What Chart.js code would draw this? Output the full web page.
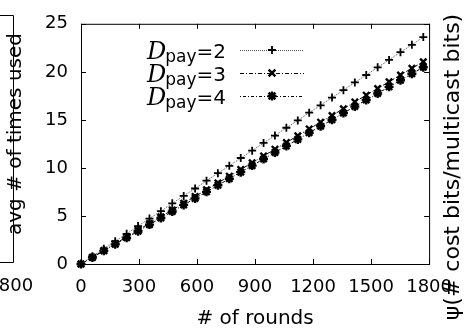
<!DOCTYPE html>
<html>
<head>
<meta charset="utf-8">
<script src="https://cdn.jsdelivr.net/npm/chart.js@4.4.1/dist/chart.umd.min.js"></script>
<style>
  html, body { margin: 0; padding: 0; background: #fff; }
  #wrap { width: 465px; height: 335px; position: relative; }
</style>
</head>
<body>
<div id="wrap"><canvas id="cost"></canvas></div>
<script>
// rounds at which psi was sampled
const ROUNDS = [0, 59, 118, 177, 236, 295, 354, 413, 472, 531, 590, 649, 708, 767, 826,
  885, 944, 1003, 1062, 1121, 1180, 1239, 1298, 1357, 1416, 1475, 1534, 1593, 1652, 1711, 1770];

const DPAY = ['2', '3', '4'];

const PSI_D2 = [0, 0.80, 1.58, 2.37, 3.14, 3.95, 4.73, 5.50, 6.31, 7.09, 7.86, 8.67, 9.45, 10.22, 11.03,
  11.80, 12.60, 13.37, 14.18, 14.94, 15.75, 16.52, 17.32, 18.09, 18.90, 19.67, 20.47, 21.24, 22.05, 22.81, 23.62];
const PSI_D3 = [0, 0.71, 1.41, 2.11, 2.82, 3.52, 4.22, 4.92, 5.63, 6.33, 7.03, 7.73, 8.44, 9.14, 9.84,
  10.54, 11.25, 11.95, 12.65, 13.35, 14.06, 14.76, 15.46, 16.16, 16.87, 17.57, 18.27, 18.97, 19.67, 20.37, 21.05];
const PSI_D4 = [0, 0.68, 1.37, 2.05, 2.73, 3.41, 4.10, 4.78, 5.46, 6.15, 6.83, 7.51, 8.19, 8.88, 9.56,
  10.24, 10.93, 11.61, 12.29, 12.97, 13.66, 14.34, 15.02, 15.71, 16.39, 17.07, 17.75, 18.44, 19.12, 19.80, 20.48];

const X_TITLE = '# of rounds';
const Y_TITLE = 'avg # of times used';
const Y2_TITLE = 'ψ(# cost bits/multicast bits)';
const LEFT_TICK = '800'; // leftover tick of the neighbouring panel

const SANS = '"DejaVu Sans", sans-serif';

const toXY = (ys) => ys.map((y, i) => ({ x: ROUNDS[i], y: y }));

const styles = [
  { dash: [1, 1], color: '#555', point: 'cross', r: 4, w: 1.8 },
  { dash: [4, 2, 1, 2], color: '#000', point: 'crossRot', r: 4.5, w: 2.4 },
  { dash: [1, 2, 3, 2], color: '#000', point: 'star', r: 4.5, w: 2.4 }
];
const series = [PSI_D2, PSI_D3, PSI_D4];

function drawMarker(ctx, style, x, y, r) {
  ctx.beginPath();
  if (style === 'cross' || style === 'star') {
    ctx.moveTo(x - r, y); ctx.lineTo(x + r, y);
    ctx.moveTo(x, y - r); ctx.lineTo(x, y + r);
  }
  if (style === 'crossRot' || style === 'star') {
    const d = r * 0.75;
    ctx.moveTo(x - d, y - d); ctx.lineTo(x + d, y + d);
    ctx.moveTo(x - d, y + d); ctx.lineTo(x + d, y - d);
  }
  ctx.stroke();
}

function vText(ctx, text, x, y, font) {
  ctx.save();
  ctx.fillStyle = '#000';
  ctx.font = font;
  ctx.textAlign = 'center';
  ctx.textBaseline = 'middle';
  ctx.translate(x, y);
  ctx.rotate(-Math.PI / 2);
  ctx.fillText(text, 0, 0);
  ctx.restore();
}

// frame + inward ticks like gnuplot, drawn below the lines
const framePlugin = {
  id: 'frame',
  beforeDatasetsDraw(chart) {
    const { ctx, chartArea: a, scales } = chart;
    ctx.save();
    ctx.strokeStyle = '#000';
    ctx.lineWidth = 1;
    ctx.strokeRect(a.left + 0.5, a.top + 0.5, a.right - a.left, a.bottom - a.top);
    const tl = 5;
    ctx.beginPath();
    scales.x.ticks.forEach(t => {
      const px = Math.round(scales.x.getPixelForValue(t.value)) + 0.5;
      ctx.moveTo(px, a.bottom); ctx.lineTo(px, a.bottom - tl);
      ctx.moveTo(px, a.top); ctx.lineTo(px, a.top + tl);
    });
    scales.y.ticks.forEach(t => {
      const py = Math.round(scales.y.getPixelForValue(t.value)) + 0.5;
      ctx.moveTo(a.left, py); ctx.lineTo(a.left + tl, py);
      ctx.moveTo(a.right, py); ctx.lineTo(a.right - tl, py);
    });
    ctx.stroke();
    ctx.restore();
  },
  afterDraw(chart) {
    const { ctx } = chart;
    // axis titles that read bottom to top
    vText(ctx, Y_TITLE, 16, 134, '20px ' + SANS);
    vText(ctx, Y2_TITLE, 453, 167, '22px ' + SANS);

    // cut-off edge of the neighbouring panel
    ctx.save();
    ctx.strokeStyle = '#000';
    ctx.lineWidth = 1;
    ctx.beginPath();
    ctx.moveTo(0, 15.5); ctx.lineTo(13.5, 15.5); ctx.lineTo(13.5, 262.5); ctx.lineTo(0, 262.5);
    ctx.stroke();
    ctx.fillStyle = '#000';
    ctx.font = '18px ' + SANS;
    ctx.textAlign = 'center';
    ctx.textBaseline = 'middle';
    ctx.fillText(LEFT_TICK, 16, 286);
    ctx.restore();

    // legend
    ctx.save();
    chart.data.datasets.forEach((ds, i) => {
      const y = 50 + i * 23;
      const right = 226;
      ctx.fillStyle = '#000';
      ctx.textBaseline = 'alphabetic';
      ctx.textAlign = 'right';
      ctx.font = '20px ' + SANS;
      const eq = '=' + DPAY[i];
      ctx.fillText(eq, right, y + 8);
      const wEq = ctx.measureText(eq).width;
      ctx.font = '17px ' + SANS;
      ctx.fillText('pay', right - wEq, y + 12);
      const wPay = ctx.measureText('pay').width;
      ctx.font = 'italic 24px "DejaVu Serif", serif';
      ctx.fillText('D', right - wEq - wPay + 1, y + 9);

      ctx.strokeStyle = ds.borderColor;
      ctx.lineWidth = 1;
      ctx.setLineDash(ds.borderDash);
      ctx.beginPath();
      ctx.moveTo(240, y + 0.5); ctx.lineTo(304, y + 0.5);
      ctx.stroke();
      ctx.setLineDash([]);
      ctx.strokeStyle = '#000';
      ctx.lineWidth = styles[i].w;
      drawMarker(ctx, styles[i].point, 272, y, styles[i].r);
    });
    ctx.restore();
  }
};

new Chart(document.getElementById('cost'), {
  type: 'line',
  data: {
    datasets: series.map((s, i) => ({
      label: 'D_pay=' + DPAY[i],
      data: toXY(s),
      borderColor: styles[i].color,
      borderWidth: 1,
      borderDash: styles[i].dash,
      pointStyle: styles[i].point,
      pointRadius: styles[i].r,
      pointBorderWidth: styles[i].w,
      pointBorderColor: '#000',
      pointBackgroundColor: '#000',
      fill: false,
      tension: 0,
      clip: false
    }))
  },
  options: {
    responsive: true,
    maintainAspectRatio: false,
    animation: false,
    events: [],
    layout: { padding: { left: 0, right: 28, top: 19, bottom: 0 } },
    plugins: {
      legend: { display: false },
      tooltip: { enabled: false }
    },
    scales: {
      x: {
        type: 'linear',
        min: 0,
        max: 1800,
        ticks: {
          stepSize: 300, color: '#000', padding: 13, maxRotation: 0,
          font: { family: SANS, size: 18 },
          callback: (v) => String(v)
        },
        grid: { display: false, drawTicks: false },
        border: { display: false },
        title: { display: true, text: X_TITLE, color: '#000', padding: { top: 0, bottom: 4 }, font: { family: SANS, size: 20 } },
        afterFit(scale) { scale.height = 71; }
      },
      y: {
        min: 0,
        max: 25,
        ticks: { stepSize: 5, color: '#000', padding: 13, font: { family: SANS, size: 18 } },
        grid: { display: false, drawTicks: false },
        border: { display: false },
        afterFit(scale) { scale.width = 81; }
      }
    }
  },
  plugins: [framePlugin]
});
</script>
</body>
</html>
